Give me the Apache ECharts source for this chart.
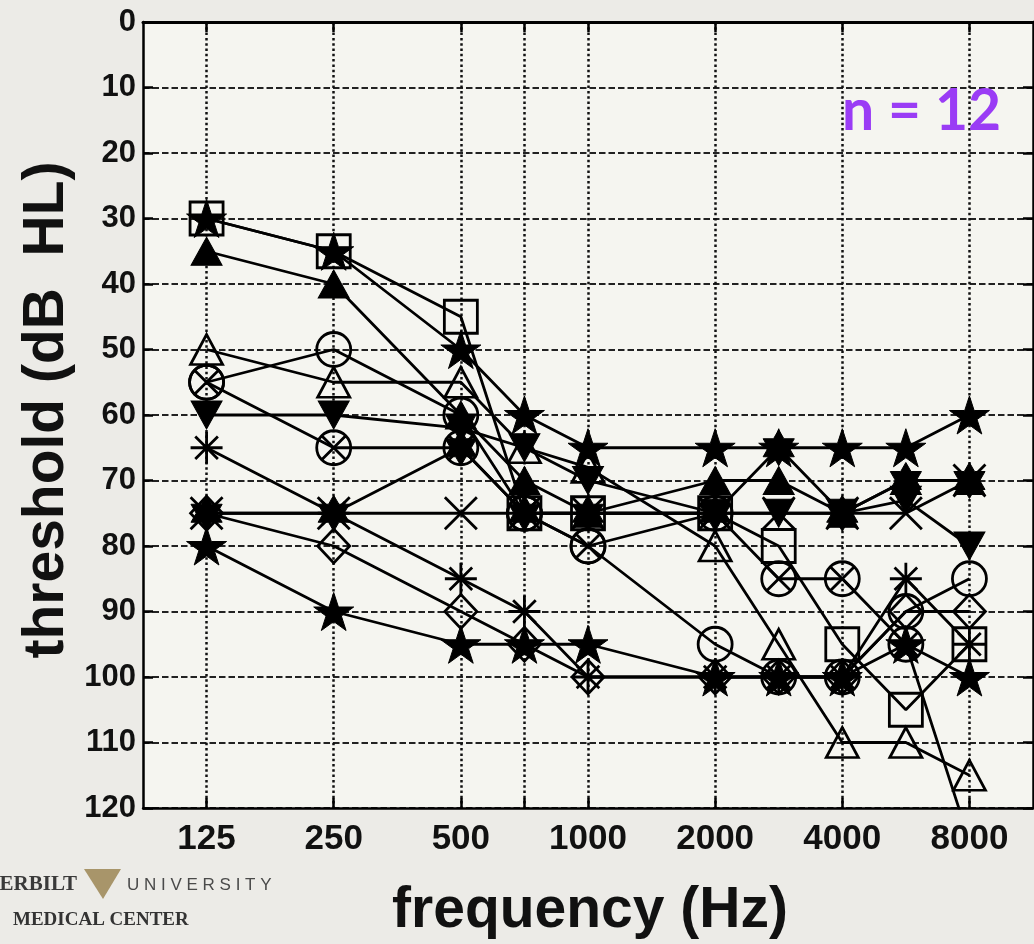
<!DOCTYPE html>
<html>
<head>
<meta charset="utf-8">
<script src="https://cdn.jsdelivr.net/npm/echarts@6/dist/echarts.min.js"></script>
<style>
html,body{margin:0;padding:0;background:#ecebe7;}
#chart{width:1034px;height:944px;}
</style>
</head>
<body>
<div id="chart"></div>
<script>
// ---- data ----
const freqs = [125, 250, 500, 750, 1000, 2000, 3000, 4000, 6000, 8000];
// audiogram x scale (octaves above 125 Hz, inter-octave frequencies at half-octave)
const freqScale = [0, 1, 2, 2.5, 3, 4, 4.5, 5, 5.5, 6];
const gridFreqs = [125, 250, 500, 750, 1000, 2000, 4000, 8000];
const labelFreqs = [125, 250, 500, 1000, 2000, 4000, 8000];

// thresholds (dB HL) per listener, one value per frequency in freqs
const sSquare    = [30, 35, 45, 75, 75, 75, 80, 95, 105, 95];
const sStarTop   = [30, 35, 50, 60, 65, 65, 65, 65, 65, 60];
const sTriFill   = [35, 40, 60, 70, 75, 70, 70, 75, 70, 70];
const sTriOpen   = [50, 55, 55, 65, 68, 80, 95, 110, 110, 115];
const sCircle    = [55, 50, 60, 75, 80, 95, 100, 100, 90, 85];
const sCircX     = [55, 65, 65, 75, 80, 75, 85, 85, 95, 125];
const sTriDown   = [60, 60, 62, 65, 70, 75, 75, 75, 73, 80];
const sAsterisk  = [65, 75, 85, 90, 100, 100, 100, 100, 85, 95];
const sCross     = [75, 75, 75, 75, 75, 75, 75, 75, 75, 70];
const sHexagram  = [75, 75, 65, 75, 75, 75, 65, 75, 70, 70];
const sDiamond   = [75, 80, 90, 95, 100, 100, 100, 100, 90, 90];
const sStarLow   = [80, 90, 95, 95, 95, 100, 100, 100, 95, 100];

// ---- symbol shapes ----
function starPath(n, inner) {
  let d = '';
  for (let i = 0; i < 2 * n; i++) {
    const a = -Math.PI / 2 + i * Math.PI / n;
    const r = i % 2 ? inner : 1;
    d += (i ? 'L' : 'M') + (10 + 10 * r * Math.cos(a)).toFixed(3) + ',' + (10 + 10 * r * Math.sin(a)).toFixed(3) + ' ';
  }
  return 'path://' + d + 'Z';
}
const PENTA = starPath(5, 0.382);
const HEXA = starPath(6, 0.577);
const CIRCX = 'path://M0,10 A10,10 0 1,1 20,10 A10,10 0 1,1 0,10 Z M2.93,2.93 L17.07,17.07 M17.07,2.93 L2.93,17.07';
const ASTER = 'path://M10,0 L10,20 M0,10 L20,10 M2.93,2.93 L17.07,17.07 M17.07,2.93 L2.93,17.07';
const CROSS = 'path://M0,0 L20,20 M20,0 L0,20';

function pos(f) { return freqScale[freqs.indexOf(f)]; }

function mk(values, symbol, size, filled, rotate) {
  return {
    type: 'line',
    data: values.map((v, i) => [freqScale[i], v]),
    symbol: symbol,
    symbolSize: size,
    symbolRotate: rotate || 0,
    symbolKeepAspect: true,
    showSymbol: true,
    showAllSymbol: true,
    clip: true,
    silent: true,
    animation: false,
    emphasis: {disabled: true},
    lineStyle: {color: '#000', width: 2.8},
    itemStyle: {
      color: filled ? '#000' : 'rgba(0,0,0,0)',
      borderColor: '#000',
      borderWidth: filled ? 1 : 2.8
    }
  };
}

const series = [
  mk(sSquare, 'rect', 33, false),
  mk(sStarTop, PENTA, 40, true),
  mk(sTriFill, 'triangle', [31, 28], true),
  mk(sTriOpen, 'triangle', [32, 30], false),
  mk(sCircle, 'circle', 34, false),
  mk(sCircX, CIRCX, 34, false),
  mk(sTriDown, 'triangle', [31, 28], true, 180),
  mk(sAsterisk, ASTER, 32, false),
  mk(sCross, CROSS, 32, false),
  mk(sHexagram, HEXA, 36, true),
  mk(sDiamond, 'diamond', [32, 34], false),
  mk(sStarLow, PENTA, 40, true)
];

const gridTicks = gridFreqs.map(pos);
const labelTicks = labelFreqs.map(pos);

const chart = echarts.init(document.getElementById('chart'), null, {renderer: 'canvas'});
chart.setOption({
  animation: false,
  backgroundColor: '#ecebe7',
  grid: {
    left: 143, right: 1, top: 22, bottom: 136,
    show: true, backgroundColor: '#f5f5f0', borderWidth: 0,
    containLabel: false, outerBoundsMode: 'none'
  },
  xAxis: [{
    type: 'value', position: 'bottom', min: -0.5, max: 6.5,
    axisLine: {show: true, onZero: false, lineStyle: {color: '#000', width: 2.5}},
    axisTick: {show: true, inside: true, length: 10, customValues: gridTicks, lineStyle: {color: '#000', width: 2.5}},
    axisLabel: {
      show: true, customValues: labelTicks, margin: 14,
      color: '#111', fontFamily: 'Liberation Sans', fontWeight: 'bold', fontSize: 35,
      formatter: function (v) { const i = freqScale.indexOf(v); return i >= 0 ? String(freqs[i]) : ''; }
    },
    splitLine: {show: true, lineStyle: {color: '#111', width: 2.5, type: [2.5, 2.8]}}
  }, {
    type: 'value', position: 'top', min: -0.5, max: 6.5,
    axisLine: {show: true, onZero: false, lineStyle: {color: '#000', width: 3}},
    axisTick: {show: true, inside: true, length: 10, customValues: gridTicks, lineStyle: {color: '#000', width: 2.5}},
    axisLabel: {show: false},
    splitLine: {show: false}
  }],
  yAxis: [{
    type: 'value', position: 'left', inverse: true, min: 0, max: 120, interval: 10,
    axisLine: {show: true, onZero: false, lineStyle: {color: '#000', width: 2.5}},
    axisTick: {show: true, inside: true, length: 10, lineStyle: {color: '#000', width: 2.5}},
    axisLabel: {show: true, margin: 7, color: '#111', fontFamily: 'Liberation Sans', fontWeight: 'bold', fontSize: 31},
    splitLine: {show: true, lineStyle: {color: '#222', width: 2, type: [6.5, 3]}}
  }, {
    type: 'value', position: 'right', inverse: true, min: 0, max: 120, interval: 10,
    axisLine: {show: true, onZero: false, lineStyle: {color: '#000', width: 2.5}},
    axisTick: {show: true, inside: true, length: 10, lineStyle: {color: '#000', width: 2.5}},
    axisLabel: {show: false},
    splitLine: {show: false}
  }],
  series: series,
  graphic: [
    {type: 'text', x: 47, y: 410, rotation: Math.PI / 2, silent: true,
     style: {text: 'threshold (dB  HL)', align: 'center', verticalAlign: 'middle',
             font: 'bold 57px "Liberation Sans"', fill: '#111'}},
    {type: 'text', x: 590, y: 911, silent: true,
     style: {text: 'frequency (Hz)', align: 'center', verticalAlign: 'middle',
             font: 'bold 57px "Liberation Sans"', fill: '#111'}},
    {type: 'text', x: 842, y: 112, silent: true, z: 100,
     style: {text: 'n = 12', align: 'left', verticalAlign: 'middle',
             font: 'bold 57px Lato', fill: '#9a3cf5'}},
    {type: 'text', x: 77, y: 885, silent: true,
     style: {text: 'VANDERBILT', align: 'right', verticalAlign: 'middle',
             font: 'bold 21px "Liberation Serif"', fill: '#3a3a3a'}},
    {type: 'polygon', silent: true,
     shape: {points: [[84, 869], [121, 869], [103, 899]]},
     style: {fill: '#a8956a'}},
    {type: 'text', x: 127, y: 885, silent: true,
     style: {text: 'U N I V E R S I T Y', align: 'left', verticalAlign: 'middle',
             font: '17px "Liberation Sans"', fill: '#4a4a4a'}},
    {type: 'text', x: 13, y: 920, silent: true,
     style: {text: 'MEDICAL CENTER', align: 'left', verticalAlign: 'middle',
             font: 'bold 19px "Liberation Serif"', fill: '#333'}}
  ]
});
</script>
</body>
</html>
